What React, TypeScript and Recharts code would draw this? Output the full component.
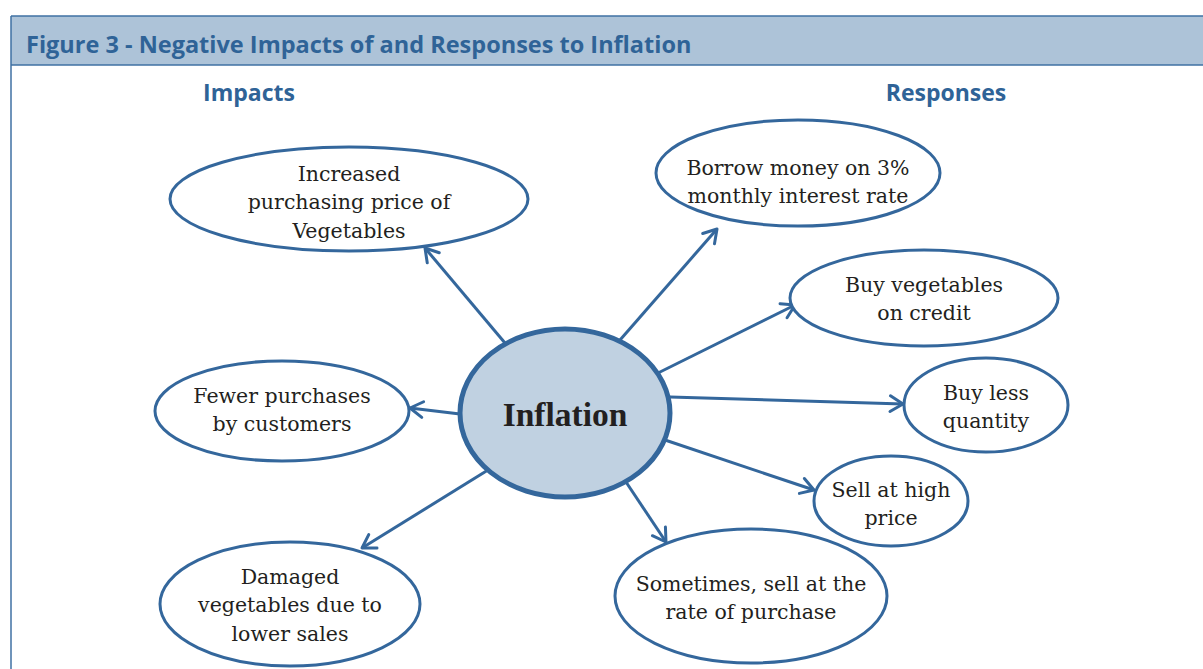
import React from 'react';
import { ScatterChart, Scatter, XAxis, YAxis } from 'recharts';

const W = 1203;
const H = 669;

const titleText = 'Figure 3 - Negative Impacts of and Responses to Inflation';
const sectionLabels = [
  { label: 'Impacts', x: 249, y: 93 },
  { label: 'Responses', x: 946, y: 93 },
];

// Node ellipses: centre, radii, text centre, lines
const nodeLabels = [
  ['Increased', 'purchasing price of', 'Vegetables'],
  ['Fewer purchases', 'by customers'],
  ['Damaged', 'vegetables due to', 'lower sales'],
  ['Borrow money on 3%', 'monthly interest rate'],
  ['Buy vegetables', 'on credit'],
  ['Buy less', 'quantity'],
  ['Sell at high', 'price'],
  ['Sometimes, sell at the', 'rate of purchase'],
];
const nodeCx = [349, 282, 290, 798, 924, 986, 891, 751];
const nodeCy = [199, 411, 604, 173, 298, 405, 501, 596];
const nodeRx = [179, 127, 130, 142, 134, 82, 77, 136];
const nodeRy = [52, 50, 62, 53, 48, 47, 45, 67];
const nodeTextY = [202, 410, 605, 182, 299, 407, 504, 598];

const centre = { label: 'Inflation', x: 565, y: 413, rx: 105, ry: 84 };

// Arrows: start -> tip
const arrowFrom = [
  [505, 343],
  [460, 414],
  [488, 470],
  [620, 340],
  [658, 373],
  [670, 397],
  [665, 440],
  [626, 482],
];
const arrowTo = [
  [425, 248],
  [410, 408],
  [362, 548],
  [717, 229],
  [795, 305],
  [903, 404],
  [814, 490],
  [666, 542],
];

const BLUE = '#34679c';

const nodeData = nodeLabels.map((lines, i) => ({
  x: nodeCx[i],
  y: nodeCy[i],
  rx: nodeRx[i],
  ry: nodeRy[i],
  ty: nodeTextY[i],
  lines,
}));

const EllipseShape = (props: any) => {
  const { cx, cy, payload } = props;
  const ty = payload.ty !== undefined ? cy + (payload.ty - payload.y) : cy;
  const n = payload.lines.length;
  const lh = 28.5;
  return (
    <g>
      <ellipse cx={cx} cy={cy} rx={payload.rx} ry={payload.ry} fill="#ffffff" stroke={BLUE} strokeWidth={3} />
      <text x={cx} textAnchor="middle" fontFamily='"DejaVu Serif", serif' fontSize={20.5} fill="#231f20">
        {payload.lines.map((l: string, k: number) => (
          <tspan key={k} x={cx} y={ty + (k - (n - 1) / 2) * lh + 7}>
            {l}
          </tspan>
        ))}
      </text>
    </g>
  );
};

const CentreShape = (props: any) => {
  const { cx, cy, payload } = props;
  return (
    <g>
      <ellipse cx={cx} cy={cy} rx={payload.rx} ry={payload.ry} fill="#c0d1e1" stroke={BLUE} strokeWidth={5} />
      <text
        x={cx}
        y={cy + 13}
        textAnchor="middle"
        fontFamily='"Liberation Serif", serif'
        fontWeight="bold"
        fontSize={33.5}
        fill="#231f20"
      >
        {payload.label}
      </text>
    </g>
  );
};

const makeArrowHead = (from: number[], to: number[]) => (props: any) => {
  const { cx, cy, payload } = props;
  if (!payload.tip) return <g />;
  const ang = Math.atan2(to[1] - from[1], to[0] - from[0]);
  const L = 15;
  const spread = 0.55;
  const a1 = ang + Math.PI - spread;
  const a2 = ang + Math.PI + spread;
  const d = `M ${cx + L * Math.cos(a1)} ${cy + L * Math.sin(a1)} L ${cx} ${cy} L ${cx + L * Math.cos(a2)} ${cy + L * Math.sin(a2)}`;
  return <path d={d} fill="none" stroke={BLUE} strokeWidth={3} strokeLinecap="round" strokeLinejoin="round" />;
};

export default function App() {
  return (
    <div style={{ position: 'absolute', left: 0, top: 0, width: W, height: H, background: '#ffffff', overflow: 'hidden' }}>
      <svg width={W} height={H} style={{ position: 'absolute', left: 0, top: 0 }}>
        <rect x={11} y={16} width={W} height={49} fill="#adc3d8" />
        <line x1={11} y1={16} x2={W} y2={16} stroke="#3f70a3" strokeWidth={1.5} />
        <line x1={11} y1={65} x2={W} y2={65} stroke="#3f70a3" strokeWidth={1.5} />
        <line x1={11} y1={16} x2={11} y2={H} stroke="#3f70a3" strokeWidth={1.5} />
        <text x={26} y={53} fontFamily='"Open Sans", sans-serif' fontWeight="bold" fontSize={23.5} fill="#2f6397">
          {titleText}
        </text>
        {sectionLabels.map((s) => (
          <text key={s.label} x={s.x} y={s.y + 8} textAnchor="middle" fontFamily='"Open Sans", sans-serif' fontWeight="bold" fontSize={23} fill="#2f6397">
            {s.label}
          </text>
        ))}
      </svg>
      <div style={{ position: 'absolute', left: 0, top: 0 }}>
        <ScatterChart width={W} height={H} margin={{ top: 0, right: 0, bottom: 0, left: 0 }}>
          <XAxis type="number" dataKey="x" domain={[0, W]} hide allowDataOverflow />
          <YAxis type="number" dataKey="y" domain={[0, H]} reversed hide allowDataOverflow />
          {arrowFrom.map((f, i) => (
            <Scatter
              key={'arrow' + i}
              data={[
                { x: f[0], y: f[1], tip: false },
                { x: arrowTo[i][0], y: arrowTo[i][1], tip: true },
              ]}
              line={{ stroke: BLUE, strokeWidth: 3 }}
              shape={makeArrowHead(f, arrowTo[i])}
              isAnimationActive={false}
            />
          ))}
          <Scatter data={nodeData} shape={EllipseShape} isAnimationActive={false} />
          <Scatter data={[centre]} shape={CentreShape} isAnimationActive={false} />
        </ScatterChart>
      </div>
    </div>
  );
}
